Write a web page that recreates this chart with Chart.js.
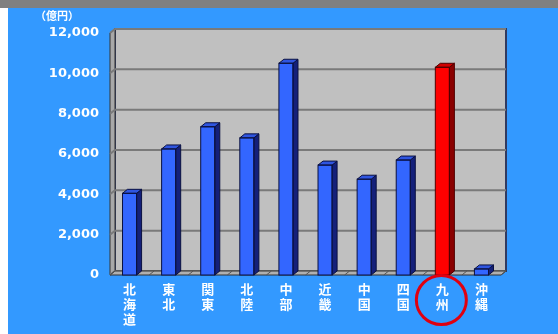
<!DOCTYPE html>
<html>
<head>
<meta charset="utf-8">
<style>
  html, body { margin: 0; padding: 0; background: #3399ff; }
  #wrap { width: 558px; height: 334px; }
</style>
<script src="https://cdn.jsdelivr.net/npm/chart.js@4"></script>
</head>
<body>
<div id="wrap"><canvas id="myChart" width="558" height="334"></canvas></div>
<script>
// Regions (labels drawn vertically, one character per line)
var regions = ['北海道', '東北', '関東', '北陸', '中部', '近畿', '中国', '四国', '九州', '沖縄'];
// Amount (億円)
var amounts = [4050, 6250, 7350, 6800, 10500, 5450, 4750, 5700, 10300, 300];
var yTicks = [0, 2000, 4000, 6000, 8000, 10000, 12000];
var unitLabel = '（億円）';
var highlightIndex = 8;

var DX = 5, DY = -4;  // depth offset of the 3D back plane

function fillPoly(ctx, pts, fill, stroke, lw) {
  ctx.beginPath();
  ctx.moveTo(pts[0][0], pts[0][1]);
  for (var i = 1; i < pts.length; i++) ctx.lineTo(pts[i][0], pts[i][1]);
  ctx.closePath();
  if (fill) { ctx.fillStyle = fill; ctx.fill(); }
  if (stroke) { ctx.strokeStyle = stroke; ctx.lineWidth = lw || 1; ctx.stroke(); }
}

var backdrop = {
  id: 'backdrop',
  beforeDraw: function (chart) {
    var ctx = chart.ctx;
    ctx.save();
    ctx.fillStyle = '#3399ff';
    ctx.fillRect(0, 0, chart.width, chart.height);
    ctx.fillStyle = '#ffffff';
    ctx.fillRect(0, 0, 8, chart.height);
    ctx.fillStyle = '#808080';
    ctx.fillRect(0, 0, chart.width, 8);
    // unit label
    ctx.fillStyle = '#ffffff';
    ctx.font = 'bold 11px "Noto Sans CJK JP"';
    ctx.textAlign = 'left';
    ctx.textBaseline = 'middle';
    ctx.fillText(unitLabel, 35, 16);
    ctx.restore();
  }
};

var walls = {
  id: 'walls',
  beforeDatasetsDraw: function (chart) {
    var ctx = chart.ctx, a = chart.chartArea, y = chart.scales.y;
    ctx.save();
    // back wall
    fillPoly(ctx, [[a.left + DX, a.top + DY], [a.right + DX, a.top + DY], [a.right + DX, a.bottom + DY], [a.left + DX, a.bottom + DY]], '#c0c0c0', '#303a60', 2);
    // left wall
    fillPoly(ctx, [[a.left, a.top], [a.left + DX, a.top + DY], [a.left + DX, a.bottom + DY], [a.left, a.bottom]], '#a8a8a8', '#333333', 1);
    // gridlines
    ctx.strokeStyle = '#7a7a7a';
    ctx.lineWidth = 2;
    yTicks.forEach(function (v) {
      var py = y.getPixelForValue(v);
      ctx.beginPath();
      ctx.moveTo(a.left, py);
      ctx.lineTo(a.left + DX, py + DY);
      ctx.lineTo(a.right + DX, py + DY);
      ctx.stroke();
    });
    // floor
    fillPoly(ctx, [[a.left, a.bottom], [a.right, a.bottom], [a.right + DX, a.bottom + DY], [a.left + DX, a.bottom + DY]], '#b0b0b0', '#333333', 1);
    ctx.strokeStyle = '#555555';
    ctx.lineWidth = 1;
    for (var i = 0; i <= regions.length; i++) {
      var px = a.left + (a.right - a.left) * i / regions.length;
      ctx.beginPath();
      ctx.moveTo(px, a.bottom);
      ctx.lineTo(px + DX, a.bottom + DY);
      ctx.stroke();
    }
    ctx.restore();
  },
  afterDatasetsDraw: function (chart) {
    var ctx = chart.ctx;
    var meta = chart.getDatasetMeta(0);
    ctx.save();
    meta.data.forEach(function (bar, i) {
      var p = bar.getProps(['x', 'y', 'base', 'width'], true);
      var l = p.x - p.width / 2, r = p.x + p.width / 2;
      var hot = i === highlightIndex;
      var side = hot ? '#8a0000' : '#14207a';
      var top = hot ? '#d00000' : '#2f55e0';
      var edge = hot ? '#500000' : '#0a1040';
      fillPoly(ctx, [[r, p.y], [r + DX, p.y + DY], [r + DX, p.base + DY], [r, p.base]], side, edge, 1);
      fillPoly(ctx, [[l, p.y], [l + DX, p.y + DY], [r + DX, p.y + DY], [r, p.y]], top, edge, 1);
      ctx.strokeStyle = edge;
      ctx.lineWidth = 1;
      ctx.strokeRect(l, p.y, p.width, p.base - p.y);
    });
    ctx.restore();
  },
  afterDraw: function (chart) {
    var ctx = chart.ctx;
    var cx = chart.scales.x.getPixelForValue(highlightIndex);
    ctx.save();
    ctx.strokeStyle = '#e00010';
    ctx.lineWidth = 3;
    ctx.beginPath();
    ctx.ellipse(cx - 1, 300, 25, 24.5, 0, 0, Math.PI * 2);
    ctx.stroke();
    ctx.restore();
  }
};

var ctx = document.getElementById('myChart').getContext('2d');
var myChart = new Chart(ctx, {
  type: 'bar',
  data: {
    labels: regions.map(function (r) { return r.split(''); }),
    datasets: [{
      data: amounts,
      backgroundColor: amounts.map(function (v, i) { return i === highlightIndex ? '#ff0000' : '#3366ff'; }),
      borderWidth: 0,
      barPercentage: 0.36,
      categoryPercentage: 1
    }]
  },
  options: {
    responsive: false,
    animation: false,
    layout: { padding: { left: 0, right: 57, top: 33, bottom: 0 } },
    plugins: { legend: { display: false }, tooltip: { enabled: false } },
    scales: {
      x: {
        grid: { display: false, drawTicks: false },
        border: { display: false },
        ticks: {
          color: '#ffffff',
          font: { family: '"Noto Sans CJK JP"', size: 13, weight: 'bold', lineHeight: 1.15 },
          padding: 7,
          maxRotation: 0,
          autoSkip: false
        },
        afterFit: function (s) { s.height = 59; }
      },
      y: {
        min: 0,
        max: 12000,
        grid: { display: false, drawTicks: false },
        border: { display: false },
        afterBuildTicks: function (s) { s.ticks = yTicks.map(function (v) { return { value: v }; }); },
        ticks: {
          color: '#ffffff',
          font: { family: '"DejaVu Sans"', size: 13, weight: 'bold' },
          padding: 11,
          callback: function (v) { return v.toLocaleString('en-US'); }
        },
        afterFit: function (s) { s.width = 110; }
      }
    }
  },
  plugins: [backdrop, walls]
});
</script>
</body>
</html>
